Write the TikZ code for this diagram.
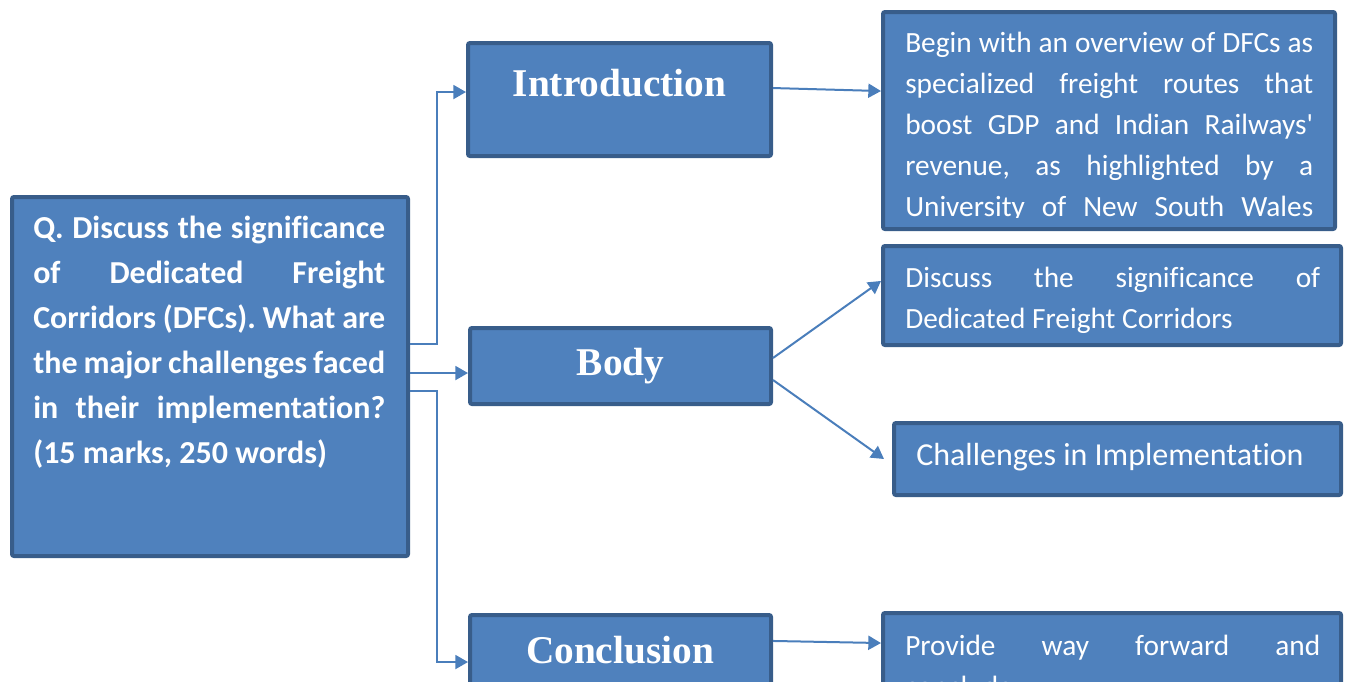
\documentclass[tikz,border=0pt]{standalone}
\usepackage{fontspec}
\setmainfont{Carlito}[RawFeature={-liga;-clig;-calt;-dlig}]
\newfontfamily\headserif{Liberation Serif}
\usetikzlibrary{arrows.meta}
\definecolor{boxblue}{HTML}{4F81BD}
\definecolor{edgeblue}{HTML}{385D8A}
\definecolor{wireblue}{HTML}{4A7EBB}
\frenchspacing

\begin{document}
\begin{tikzpicture}[x=0.75pt,y=-0.75pt]
	\tikzstyle{box}=[rectangle,draw=edgeblue,fill=boxblue,line width=3pt,rounded corners=1.5pt,inner sep=0pt]
	\tikzstyle{head}=[anchor=base,text=white,inner sep=0pt,font=\headserif\bfseries\fontsize{29.5}{36}\selectfont]
	\tikzstyle{para}=[anchor=base west,text=white,inner sep=0pt,align=justify]
	\tikzstyle{wire}=[draw=wireblue,line width=1.5pt,-{Triangle[length=9.5pt,width=10.5pt]}]
	\useasboundingbox (0,0) rectangle (1347,682);
	\clip (0,0) rectangle (1347,682);
	% boxes
	\node (question)  at (210,376.5)  [box,minimum width=297pt,minimum height=269.25pt] {};
	\node (intro)     at (619.5,99.5) [box,minimum width=227.25pt,minimum height=84.75pt] {};
	\node (body)      at (620.5,366)  [box,minimum width=225.75pt,minimum height=57pt] {};
	\node (concl)     at (620.5,657.5) [box,minimum width=225.75pt,minimum height=63.75pt] {};
	\node (overview)  at (1109,120.5) [box,minimum width=339pt,minimum height=162.75pt] {};
	\node (signif)    at (1112,295.5) [box,minimum width=343.5pt,minimum height=74.25pt] {};
	\node (challenge) at (1117.5,459) [box,minimum width=335.25pt,minimum height=54pt] {};
	\node (wayfwd)    at (1112,656.5) [box,minimum width=343.5pt,minimum height=65.25pt] {};
	% texts
	\node (qtext) at (33,238) [para,text width=264pt,font=\bfseries\fontsize{24}{33.75}\selectfont]
		{Q. Discuss the significance\linebreak of Dedicated Freight\linebreak Corridors (DFCs). What are\linebreak the major challenges faced\linebreak in their implementation?\linebreak (15 marks, 250 words)};
	\node (introlabel) at (619.5,96) [head] {Introduction};
	\node (bodylabel)  at (620.5,375) [head] {Body};
	\node (concllabel) at (620,663) [head] {Conclusion};
	\begin{scope}
		\clip (883,12) rectangle (1335,217);
		\node (overviewtext) at (905,52) [para,text width=306pt,font=\fontsize{22}{30.75}\selectfont]
			{Begin with an overview of DFCs as\linebreak specialized freight routes that\linebreak boost GDP and Indian Railways\textquotesingle\linebreak revenue, as highlighted by a\linebreak University of New South Wales{\parfillskip=0pt\par}};
	\end{scope}
	\node (signiftext) at (905,287) [para,text width=311.25pt,font=\fontsize{22}{30.75}\selectfont]
		{Discuss the significance of\linebreak Dedicated Freight Corridors};
	\node (challengetext) at (916,465.7) [anchor=base west,text=white,inner sep=0pt,font=\fontsize{24}{30}\selectfont]
		{Challenges in Implementation};
	\node (wayfwdtext) at (905,655) [para,text width=311.25pt,font=\fontsize{22}{30.75}\selectfont]
		{Provide way forward and\linebreak conclude.};
	% connectors
	\draw [wire] ([yshift=24.4pt]question.east) -- ++(27,0) |- ([yshift=5.6pt]intro.west);
	\draw [wire] ([yshift=2.6pt]question.east) -- ([yshift=2.6pt]question.east -| body.west);
	\draw [wire] ([yshift=-10.9pt]question.east) -- ++(27,0) |- ([yshift=-3.4pt]concl.west);
	\draw [wire] ([yshift=8.6pt]intro.east) -- ([yshift=22.1pt]overview.west);
	\draw [wire] ([yshift=6pt]body.east) -- ([yshift=10.9pt]signif.west);
	\draw [wire] ([yshift=-10.5pt]body.east) -- ([xshift=-6pt]challenge.west);
	\draw [wire] ([yshift=12.4pt]concl.east) -- ([yshift=10.1pt]wayfwd.west);
\end{tikzpicture}
\end{document}
